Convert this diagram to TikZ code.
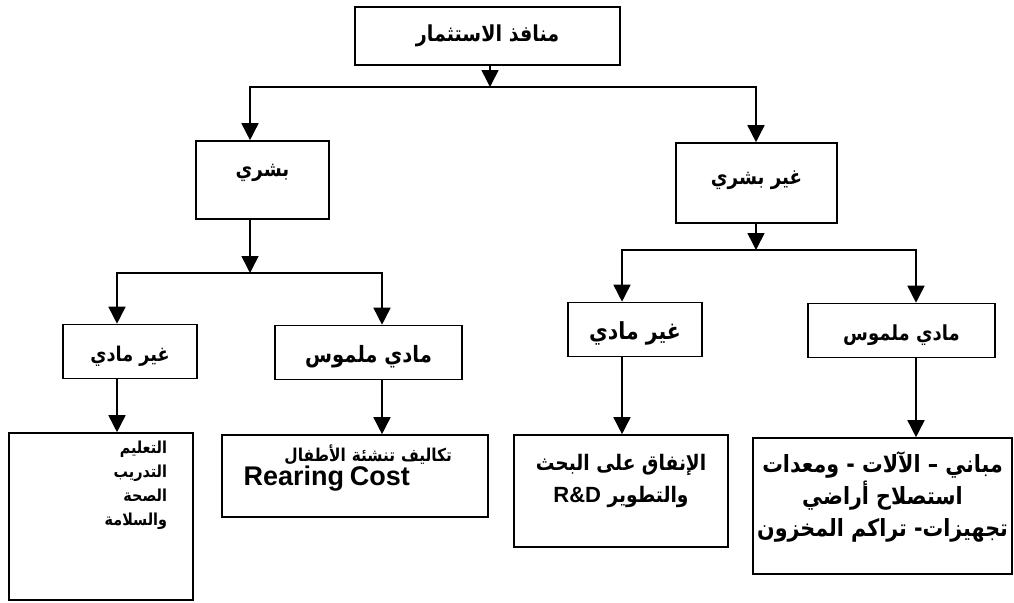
\documentclass[tikz,border=0pt]{standalone}
\usepackage{fontspec}
\setmainfont{Liberation Sans}
\newfontfamily\arabicfont[Script=Arabic,FakeStretch=0.87]{DejaVu Sans}
\TeXXeTstate=1
\usetikzlibrary{arrows.meta}
\newcommand{\artext}[1]{\beginR #1\endR}
\newcommand{\entext}[2]{{\normalfont\bfseries\fontsize{#1}{#1}\selectfont #2}}
\newcommand{\arsize}[2]{\arabicfont\bfseries\fontsize{#1}{#2}\selectfont}
\tikzstyle{box} = [rectangle, draw=black, line width=1.6pt, inner sep=2pt, text centered, font=\arsize{21}{24}]
\tikzstyle{midbox} = [box, minimum height=54pt, text height=20pt, text depth=1pt]
\tikzstyle{arrow} = [line width=1.6pt, -{Triangle[width=17pt,length=17pt]}]

\begin{document}
\begin{tikzpicture}[x=1pt,y=-1pt]
\useasboundingbox (0,0) rectangle (1014,602);
% boxes
\node (root) [box, minimum width=265pt, minimum height=58pt, font=\arsize{22}{24}] at (487.5,36) {\artext{منافذ الاستثمار}};
\node (bashari) [box, minimum width=133pt, minimum height=78pt, text depth=19pt] at (262.5,180) {\artext{بشري}};
\node (ghayrb) [box, minimum width=161pt, minimum height=80pt, text depth=10pt] at (756.5,183) {\artext{غير بشري}};
\node (gml) [midbox, minimum width=134pt, font=\arsize{20.3}{24}] at (130,351.5) {\artext{غير مادي}};
\node (mml) [midbox, minimum width=187pt, font=\arsize{22.5}{24}] at (368.5,352.5) {\artext{مادي ملموس}};
\node (gmr) [midbox, minimum width=134pt, font=\arsize{23.5}{24}] at (635,329.5) {\artext{غير مادي}};
\node (mmr) [midbox, minimum width=187pt, font=\arsize{20.7}{24}] at (901.5,330.5) {\artext{مادي ملموس}};
\node (edu) [box, minimum width=184pt, minimum height=167pt, inner xsep=26pt, text width=132pt, align=right, font=\arsize{16.5}{24}] at (101,516.5)
  {\artext{التعليم}\\\artext{التدريب}\\\artext{الصحة}\\\artext{والسلامة}\\[42pt]\mbox{}};
\node (rear) [box, minimum width=266pt, minimum height=82pt, inner xsep=18pt, text width=230pt, align=right, font=\arsize{17.7}{24}] at (355,476)
  {\artext{تكاليف تنشئة الأطفال}\hspace*{18pt}\null\\\entext{27}{Rearing Cost}\hspace*{60pt}\null\\[-2pt]\mbox{}};
\node (rnd) [box, minimum width=214pt, minimum height=112pt, align=center, font=\arsize{21.4}{32}] at (621,491)
  {\artext{الإنفاق على البحث}\\\beginR والتطوير \beginL\entext{22}{R\&D}\endL\endR\\[-6pt]\mbox{}};
\node (bldg) [box, minimum width=259pt, minimum height=136pt, align=center, font=\arsize{23.7}{32}] at (882.5,506)
  {\artext{مباني – الآلات - ومعدات}\\\artext{استصلاح أراضي}\\\artext{تجهيزات- تراكم المخزون}\\[-8pt]\mbox{}};
% branch points and columns
\coordinate (j0) at (490,87);
\coordinate (jL) at (250,273);
\coordinate (jR) at (756,250);
\coordinate (cA) at (117,0);
\coordinate (cB) at (382,0);
\coordinate (cC) at (622,0);
\coordinate (cD) at (916,0);
% arrows
\draw [arrow] (root.south -| j0) -- (j0);
\draw [arrow] (j0) -| (bashari.north -| jL);
\draw [arrow] (j0) -| (ghayrb.north -| jR);
\draw [arrow] (bashari.south -| jL) -- (jL);
\draw [arrow] (jL) -| (gml.north -| cA);
\draw [arrow] (jL) -| (mml.north -| cB);
\draw [arrow] (ghayrb.south -| jR) -- (jR);
\draw [arrow] (jR) -| (gmr.north -| cC);
\draw [arrow] (jR) -| (mmr.north -| cD);
\draw [arrow] (gml.south -| cA) -- (edu.north -| cA);
\draw [arrow] (mml.south -| cB) -- (rear.north -| cB);
\draw [arrow] (gmr.south -| cC) -- (rnd.north -| cC);
\draw [arrow] (mmr.south -| cD) -- (bldg.north -| cD);
\end{tikzpicture}
\end{document}
